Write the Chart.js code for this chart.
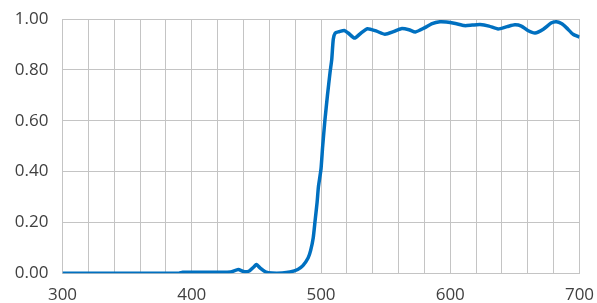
<!DOCTYPE html>
<html>
<head>
<meta charset="utf-8">
<script src="https://cdn.jsdelivr.net/npm/chart.js@4/dist/chart.umd.min.js"></script>
<style>
html,body{margin:0;padding:0;background:#fff;}
#wrap{width:597px;height:303px;position:relative;}
</style>
</head>
<body>
<div id="wrap"><canvas id="c" width="597" height="303"></canvas></div>
<script>
const wavelengths = [300,390,393,400,420,430,436,440,444,448,450,453,457,462,470,476,482,486,490,492,494,495.5,497,498,500,501.3,503,505,507,508.3,509.5,511,514,518,521,526,531,536,543,549.5,556,562,568,573,580,586,592,597,604,611,617,623,630,637,644,650,655,660,665.6,672,678,682,686,690,695,700];
const transmittance = [0,0,0.004,0.004,0.004,0.005,0.015,0.007,0.008,0.025,0.035,0.02,0.006,0.001,0.001,0.005,0.015,0.03,0.06,0.09,0.14,0.21,0.28,0.34,0.41,0.50,0.60,0.70,0.79,0.84,0.92,0.945,0.95,0.955,0.945,0.925,0.945,0.962,0.952,0.94,0.95,0.962,0.958,0.949,0.965,0.982,0.989,0.988,0.982,0.974,0.976,0.978,0.972,0.961,0.97,0.977,0.972,0.955,0.945,0.96,0.984,0.989,0.982,0.965,0.94,0.929];
const xTickLabels = [300,400,500,600,700];
const yTickLabels = ['0.00','0.20','0.40','0.60','0.80','1.00'];

const points = wavelengths.map((x,i)=>({x:x,y:transmittance[i]}));
const gridColor = '#c4c4c4';
const textColor = '#404040';
const font = {family:'"Open Sans"', size:17};

function zeroPad(s){s.paddingTop=0;s.paddingBottom=0;s.paddingLeft=0;s.paddingRight=0;}

new Chart(document.getElementById('c'), {
  type:'line',
  data:{datasets:[{data:points, borderColor:'#0070C0', borderWidth:3.5, pointRadius:0, tension:0.2, fill:false}]},
  options:{
    responsive:false, animation:false,
    layout:{padding:{left:0,right:17.5,top:19,bottom:0}},
    plugins:{legend:{display:false}, tooltip:{enabled:false}},
    scales:{
      x:{type:'linear', min:300, max:700,
        ticks:{stepSize:20, autoSkip:false, maxRotation:0, color:textColor, font:font, padding:12,
          callback:(v)=> xTickLabels.includes(v) ? String(v) : ''},
        grid:{color:gridColor, lineWidth:1, drawTicks:false},
        border:{color:gridColor},
        afterFit:(s)=>{s.height=29.7; zeroPad(s);}
      },
      y:{min:0, max:1,
        ticks:{stepSize:0.2, color:textColor, font:font, padding:14,
          callback:(v)=>{const i=Math.round(v/0.2); return Math.abs(v-i*0.2)<1e-6 ? yTickLabels[i] : '';}},
        grid:{color:gridColor, lineWidth:1, drawTicks:false},
        border:{color:gridColor},
        afterFit:(s)=>{s.width=62.5; zeroPad(s);}
      }
    }
  }
});
</script>
</body>
</html>
